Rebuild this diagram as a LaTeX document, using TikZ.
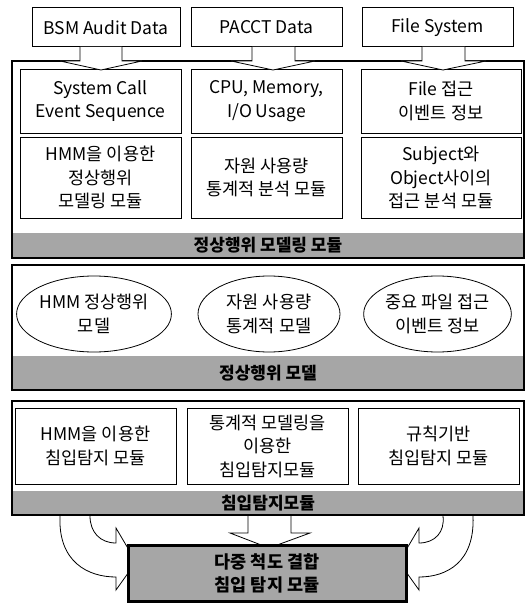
\documentclass[tikz,border=0pt]{standalone}
\usepackage{fontspec}
\setmainfont{Noto Sans CJK KR}
\usetikzlibrary{shapes.geometric}
\tikzset{
  txt/.style={font=\fontsize{17.5}{23.5}\selectfont, align=center, inner sep=0pt},
  srcbox/.style={txt, draw, line width=1pt, minimum height=39pt},
  inbox/.style={txt, draw, line width=0.8pt, minimum width=160pt},
  frame/.style={draw, line width=2.4pt, minimum width=512pt, inner sep=0pt},
  bar/.style={fill=black!35, minimum width=512pt, inner sep=0pt,
              font=\fontsize{17}{20}\selectfont\bfseries},
  model/.style={txt, draw, ellipse, line width=0.8pt, minimum width=138pt, minimum height=76pt},
  blockarrow/.style={draw, line width=0.8pt, fill=white, line join=miter},
  openarrow/.style={draw, line width=0.8pt, line join=miter},
  result/.style={draw, line width=3pt, fill=black!35, minimum width=278pt, minimum height=56pt,
                 align=center, inner sep=0pt, font=\fontsize{17.5}{23}\selectfont\bfseries}
}
\begin{document}
\begin{tikzpicture}[x=1pt,y=-1pt]
\useasboundingbox (0,0) rectangle (527,604);

% sources
\node[srcbox, minimum width=148pt] (src1) at (106,27.5) {BSM Audit Data};
\node[srcbox, minimum width=151pt] (src2) at (266.5,27.5) {PACCT Data};
\node[srcbox, minimum width=151pt] (src3) at (437.5,27.5) {File System};

% frame 1
\node[bar, minimum height=25pt] (bar1) at (268,245.5) {정상행위 모델링 모듈};
\node[frame, minimum height=197pt] (fr1) at (268,159.5) {};

\node[inbox, minimum width=161pt, minimum height=64pt] (a1) at (100.5,101) {System Call\\Event Sequence};
\node[inbox, minimum width=151pt, minimum height=64pt] (a2) at (266.5,101) {CPU, Memory,\\I/O Usage};
\node[inbox, minimum width=160pt, minimum height=64pt] (a3) at (441,101) {File 접근\\이벤트 정보};

\node[inbox, minimum width=161pt, minimum height=81pt] (b1) at (100.5,177.5) {HMM을 이용한\\정상행위\\모델링 모듈};
\node[inbox, minimum width=151pt, minimum height=81pt] (b2) at (266.5,177.5) {자원 사용량\\통계적 분석 모듈};
\node[inbox, minimum width=160pt, minimum height=81pt] (b3) at (441,177.5) {Subject와\\Object사이의\\접근 분석 모듈};

% top block arrows
\draw[blockarrow] (80,47) -- (80,61) -- (60,61) -- (101,70) -- (142,61) -- (122,61) -- (122,47);
\draw[blockarrow] (252,47) -- (252,61) -- (231,61) -- (273,70) -- (315,61) -- (295,61) -- (295,47);
\draw[blockarrow] (422,47) -- (422,61) -- (401,61) -- (443,70) -- (486,61) -- (465,61) -- (465,47);

% frame 2
\node[bar, minimum height=34pt] (bar2) at (268,373) {정상행위 모델};
\node[frame, minimum height=125pt] (fr2) at (268,327.5) {};
\node[model] (m1) at (94,314) {HMM 정상행위\\모델};
\node[model, minimum width=142pt] (m2) at (269,314) {자원 사용량\\통계적 모델};
\node[model, minimum width=136pt] (m3) at (437.5,314) {중요 파일 접근\\이벤트 정보};

% frame 3
\node[bar, minimum height=24pt] (bar3) at (268,503) {침입탐지모듈};
\node[frame, minimum height=114pt] (fr3) at (268,458) {};
\node[inbox, minimum width=161pt, minimum height=76pt] (c1) at (95.5,446) {HMM을 이용한\\침입탐지 모듈};
\node[inbox, minimum width=161pt, minimum height=76pt] (c2) at (267.5,446) {통계적 모델링을\\이용한\\침입탐지모듈};
\node[inbox, minimum width=161pt, minimum height=76pt] (c3) at (438.5,446) {규칙기반\\침입탐지 모듈};

% bottom arrows
\draw[openarrow] (248,516) -- (248,533) -- (230,533) -- (269,548) -- (310,533) -- (291,533) -- (291,516);
\draw[openarrow] (60,516) .. controls (58,562) and (88,577) .. (116,577) -- (116,590) -- (136,562)
  -- (116,528) -- (116,543) .. controls (100,543) and (90,532) .. (90,516);
\draw[openarrow] (473,516) .. controls (475,562) and (447,577) .. (419,577) -- (419,590) -- (399,562)
  -- (419,528) -- (419,543) .. controls (435,543) and (445,532) .. (443,516);

\node[result] (res) at (267,573) {다중 척도 결합\\침입 탐지 모듈};
\end{tikzpicture}
\end{document}
